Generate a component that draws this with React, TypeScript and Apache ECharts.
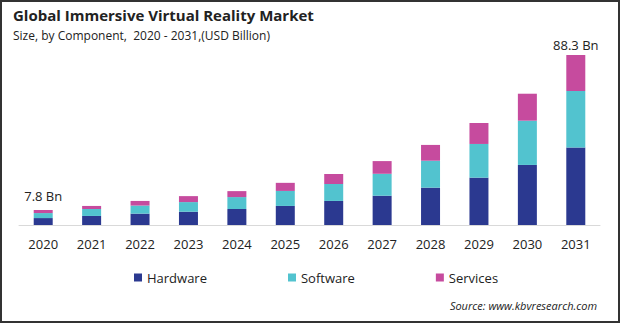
import React, { useEffect, useRef } from "react";
import * as echarts from "echarts";

const years = ["2020", "2021", "2022", "2023", "2024", "2025", "2026", "2027", "2028", "2029", "2030", "2031"];
const hardware = [3.6, 4.7, 5.9, 6.9, 8.3, 9.9, 12.5, 15.2, 19.4, 24.6, 31.2, 40.2];
const software = [2.6, 3.6, 4.2, 5.0, 6.2, 7.8, 8.8, 11.4, 14.0, 17.5, 23.0, 29.4];
const services = [1.6, 1.6, 2.4, 3.1, 3.1, 4.2, 5.2, 6.6, 8.2, 10.9, 14.0, 18.7];
const labelled: Record<number, string> = { 0: "7.8 Bn", 11: "88.3 Bn" };

const FONT = "'Open Sans', sans-serif";

export default function App() {
  const ref = useRef<HTMLDivElement>(null);
  useEffect(() => {
    if (!ref.current) return;
    const chart = echarts.init(ref.current, undefined, { renderer: "svg" });
    const servicesData = services.map((v, i) =>
      labelled[i]
        ? {
            value: v,
            label: {
              show: true,
              position: "top",
              distance: i === 0 ? 7 : 4,
              formatter: labelled[i],
              fontFamily: FONT,
              fontSize: 13,
              color: "#222",
            },
          }
        : v
    );
    chart.setOption({
      animation: false,
      backgroundColor: "#ffffff",
      textStyle: { fontFamily: FONT },
      grid: { left: 19, right: 20, top: 32.5, bottom: 98, containLabel: false },
      xAxis: {
        type: "category",
        data: years,
        axisLine: { show: true, lineStyle: { color: "#d9d9d9", width: 1 } },
        axisTick: { show: false },
        axisLabel: { fontFamily: FONT, fontSize: 13, color: "#222", margin: 12 },
      },
      yAxis: { type: "value", min: 0, max: 100, show: false, splitLine: { show: false } },
      legend: {
        left: 129,
        top: 266,
        icon: "rect",
        itemWidth: 8,
        itemHeight: 8,
        itemGap: 81,
        textStyle: { fontFamily: FONT, fontSize: 13, color: "#222" },
        data: ["Hardware", "Software", "Services"],
      },
      series: [
        { name: "Hardware", type: "bar", stack: "t", data: hardware, barWidth: 19, itemStyle: { color: "#2B3990" } },
        { name: "Software", type: "bar", stack: "t", data: software, barWidth: 19, itemStyle: { color: "#52C3CF" } },
        { name: "Services", type: "bar", stack: "t", data: servicesData, barWidth: 19, itemStyle: { color: "#C64B9E" } },
      ],
      graphic: [
        {
          type: "rect",
          shape: { x: 1, y: 1, width: 618, height: 321 },
          style: { fill: "none", stroke: "#333", lineWidth: 2 },
          silent: true,
        },
        {
          type: "text",
          left: 13,
          top: 7,
          style: { text: "Global Immersive Virtual Reality Market", font: `bold 15px ${FONT}`, fill: "#222" },
        },
        {
          type: "text",
          left: 13,
          top: 29,
          style: { text: "Size, by Component,  2020 - 2031,(USD Billion)", font: `12px ${FONT}`, fill: "#222" },
        },
        {
          type: "text",
          right: 23,
          top: 300,
          style: { text: "Source: www.kbvresearch.com", font: `italic 11px ${FONT}`, fill: "#222" },
        },
      ],
    });
    return () => chart.dispose();
  }, []);
  return <div ref={ref} style={{ position: "fixed", left: 0, top: 0, width: 620, height: 323 }} />;
}
